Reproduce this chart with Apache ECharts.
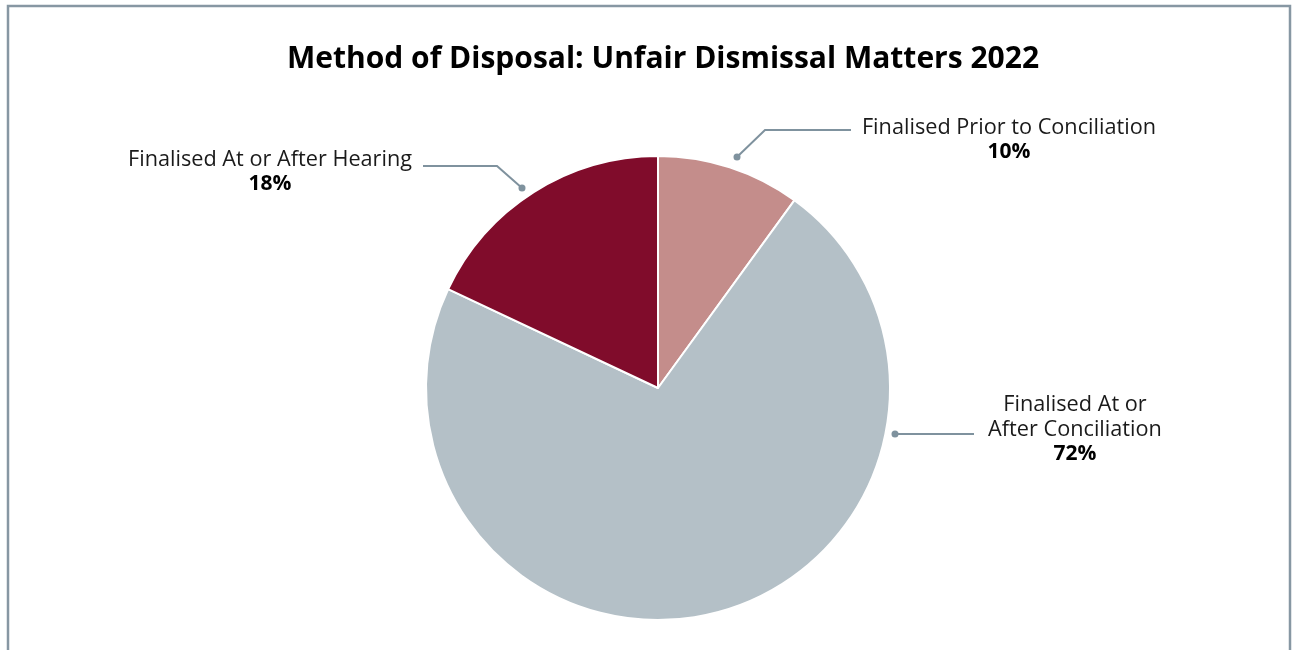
<!DOCTYPE html>
<html>
<head>
<meta charset="utf-8">
<title>Method of Disposal: Unfair Dismissal Matters 2022</title>
<script src="https://cdn.jsdelivr.net/npm/echarts@6/dist/echarts.min.js"></script>
<style>
  html, body { margin: 0; padding: 0; background: #ffffff; }
  #chart { width: 1298px; height: 650px; }
</style>
</head>
<body>
<div id="chart"></div>
<script>
// Disposal methods and their share of unfair dismissal matters (%)
const categories = [
  'Finalised Prior to Conciliation',
  'Finalised At or After Conciliation',
  'Finalised At or After Hearing'
];
const shares = [10, 72, 18];

// How each category name is broken across lines in its label
const labelNames = [
  'Finalised Prior to Conciliation',
  'Finalised At or\nAfter Conciliation',
  'Finalised At or After Hearing'
];

const sliceColors = ['#C48D8B', '#B4C0C7', '#800C2B'];
const lineColor = '#7F929E';
const FONT = 'Open Sans';

// Label placement: text block centre and leader line path (dot first)
const labelPlacement = [
  { x: 1009, y: 140, line: [[737, 157], [765, 130], [851, 130]] },
  { x: 1075, y: 430, line: [[895, 434], [974, 434]] },
  { x: 270, y: 172, line: [[522, 188], [497, 166], [423, 166]] }
];

const chart = echarts.init(document.getElementById('chart'), null, { renderer: 'canvas' });

const option = {
  animation: false,
  backgroundColor: '#ffffff',
  title: {
    text: 'Method of Disposal: Unfair Dismissal Matters 2022',
    left: 282,
    top: 39,
    textStyle: { fontFamily: FONT, fontWeight: 'bold', fontSize: 30, color: '#000000' }
  },
  graphic: [
    {
      type: 'rect',
      silent: true,
      shape: { x: 8, y: 6, width: 1282, height: 700 },
      style: { fill: 'none', stroke: '#8797A3', lineWidth: 2.5 }
    }
  ].concat(labelPlacement.map(p => ({
    type: 'circle',
    silent: true,
    z: 10,
    shape: { cx: p.line[0][0], cy: p.line[0][1], r: 3.5 },
    style: { fill: lineColor }
  }))),
  series: [
    {
      type: 'pie',
      center: [658, 388],
      radius: [0, 232],
      startAngle: 90,
      clockwise: true,
      avoidLabelOverlap: false,
      itemStyle: { borderColor: '#ffffff', borderWidth: 2 },
      label: {
        show: true,
        position: 'outside',
        align: 'center',
        formatter: p => '{n|' + labelNames[p.dataIndex].split('\n').join('}\n{n|') + '}\n{p|' + p.percent + '%}',
        rich: {
          n: { fontFamily: FONT, fontSize: 21.7, color: '#1a1a1a', lineHeight: 24.5, align: 'center' },
          p: { fontFamily: FONT, fontSize: 21, fontWeight: 'bold', color: '#000000', lineHeight: 25, align: 'center' }
        }
      },
      labelLine: {
        show: true,
        lineStyle: { color: lineColor, width: 2 }
      },
      labelLayout: params => {
        const p = labelPlacement[params.dataIndex];
        return {
          x: p.x,
          y: p.y,
          align: 'center',
          verticalAlign: 'middle',
          labelLinePoints: p.line
        };
      },
      data: categories.map((name, i) => ({
        name: name,
        value: shares[i],
        itemStyle: { color: sliceColors[i] }
      }))
    }
  ]
};

chart.setOption(option);
</script>
</body>
</html>
